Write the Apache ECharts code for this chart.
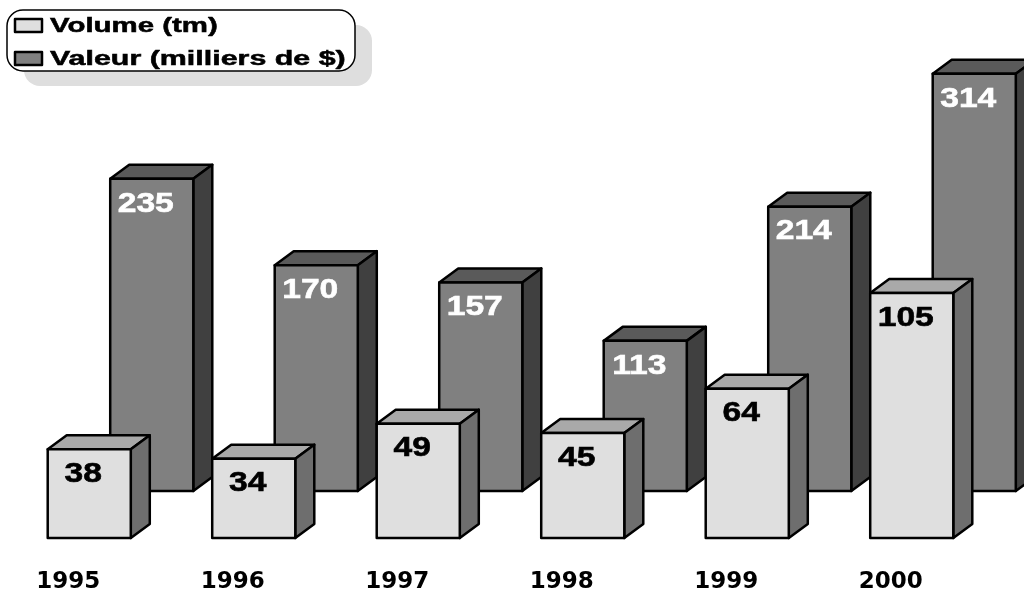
<!DOCTYPE html>
<html>
<head>
<meta charset="utf-8">
<style>html,body{margin:0;padding:0;background:#fff}#main{width:1024px;height:590px}</style>
<script src="https://cdn.jsdelivr.net/npm/echarts@6/dist/echarts.min.js"></script>
</head>
<body>
<div id="main"></div>
<script>
var years = ['1995', '1996', '1997', '1998', '1999', '2000'];
var volume = [38, 34, 49, 45, 64, 105];
var valeur = [235, 170, 157, 113, 214, 314];
var seriesNames = ['Volume (tm)', 'Valeur (milliers de $)'];

var chart = echarts.init(document.getElementById('main'));

var DX = 19, DY = 14; // depth of the fake 3d
var lineStyle = { stroke: '#000', lineWidth: 2.5, lineJoin: 'round' };
var legendText = { fill: '#000', stroke: '#000', lineWidth: 0.5, fontFamily: 'Liberation Sans', fontWeight: 'bold', fontSize: 20, verticalAlign: 'middle' };

function box(front, top, side, textColor) {
    return function (params, api) {
        var w = api.size([1, 0])[0] * 0.505;
        var p = api.coord([api.value(0), api.value(1)]);
        var base = api.coord([api.value(0), 0]);
        var l = p[0] - w / 2, r = p[0] + w / 2, t = p[1], b = base[1];
        return {
            type: 'group',
            children: [
                { type: 'polygon', shape: { points: [[l, t], [l + DX, t - DY], [r + DX, t - DY], [r, t]] }, style: Object.assign({ fill: top }, lineStyle) },
                { type: 'polygon', shape: { points: [[r, t], [r + DX, t - DY], [r + DX, b - DY], [r, b]] }, style: Object.assign({ fill: side }, lineStyle) },
                { type: 'rect', shape: { x: l, y: t, width: w, height: b - t }, style: Object.assign({ fill: front }, lineStyle) },
                {
                    type: 'text', x: p[0] - 6, y: t + 25, scaleX: 1.2,
                    style: { text: String(api.value(1)), fill: textColor, stroke: textColor, lineWidth: 0.6, fontFamily: 'Liberation Sans', fontWeight: 'bold', fontSize: 28, align: 'center', verticalAlign: 'middle' }
                }
            ]
        };
    };
}

var option = {
    animation: false,
    backgroundColor: '#fff',
    // legend is drawn by hand, the original text is stretched sideways
    graphic: [
        { type: 'rect', z: 10, shape: { x: 24, y: 25, width: 348, height: 61, r: 16 }, style: { fill: '#dedede' } },
        { type: 'rect', z: 11, shape: { x: 7, y: 10, width: 348, height: 61, r: 16 }, style: { fill: '#fff', stroke: '#000', lineWidth: 1.5 } },
        { type: 'rect', z: 12, shape: { x: 15, y: 19, width: 27, height: 13 }, style: Object.assign({ fill: '#dfdfdf' }, lineStyle) },
        { type: 'rect', z: 12, shape: { x: 15, y: 52, width: 27, height: 13 }, style: Object.assign({ fill: '#808080' }, lineStyle) },
        { type: 'text', z: 12, x: 50, y: 26, scaleX: 1.47, style: Object.assign({ text: seriesNames[0] }, legendText) },
        { type: 'text', z: 12, x: 50, y: 59, scaleX: 1.52, style: Object.assign({ text: seriesNames[1] }, legendText) }
    ],
    grid: [
        { left: 7, width: 987, bottom: 52, height: 280, outerBoundsMode: 'none' },
        { left: 69.5, width: 987, bottom: 99, height: 465, outerBoundsMode: 'none' }
    ],
    xAxis: [
        {
            type: 'category', gridIndex: 0, data: years,
            axisLine: { show: false }, axisTick: { show: false },
            axisLabel: { margin: 33, padding: [0, 42, 0, 0], color: '#000', fontFamily: 'DejaVu Sans', fontWeight: 'bold', fontSize: 23 }
        },
        { type: 'category', gridIndex: 1, data: years, show: false }
    ],
    yAxis: [
        { type: 'value', gridIndex: 0, min: 0, max: 120, show: false },
        { type: 'value', gridIndex: 1, min: 0, max: 350, show: false }
    ],
    series: [
        {
            name: seriesNames[1], type: 'custom', xAxisIndex: 1, yAxisIndex: 1, z: 2, clip: false,
            encode: { x: 0, y: 1 },
            data: years.map(function (y, i) { return [i, valeur[i]]; }),
            renderItem: box('#808080', '#5a5a5a', '#404040', '#fff')
        },
        {
            name: seriesNames[0], type: 'custom', xAxisIndex: 0, yAxisIndex: 0, z: 3, clip: false,
            encode: { x: 0, y: 1 },
            data: years.map(function (y, i) { return [i, volume[i]]; }),
            renderItem: box('#dfdfdf', '#a9a9a9', '#6e6e6e', '#000')
        }
    ]
};

chart.setOption(option);
window.onresize = chart.resize;
</script>
</body>
</html>
